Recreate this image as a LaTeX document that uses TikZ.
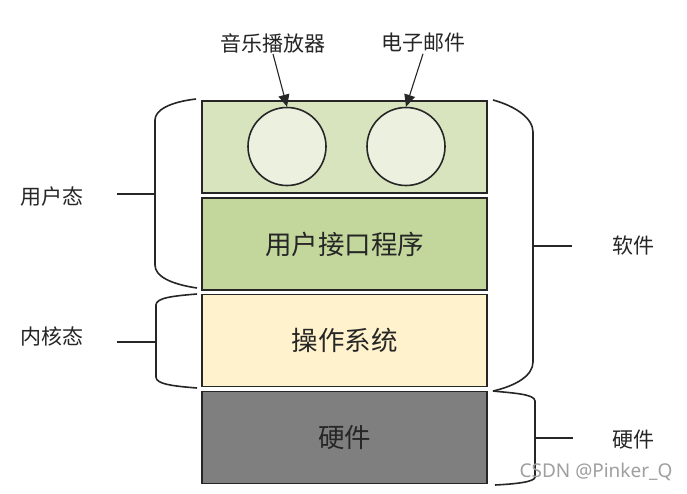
\documentclass[tikz,border=0pt]{standalone}
\usepackage{fontspec}
\newfontfamily\cjk{Noto Sans CJK SC}
\newfontfamily\wm{Noto Sans}
\usetikzlibrary{arrows.meta}
\definecolor{edge}{HTML}{262626}
\definecolor{appfill}{HTML}{D7E4BD}
\definecolor{uifill}{HTML}{C3D69B}
\definecolor{osfill}{HTML}{FFF2CC}
\definecolor{hwfill}{HTML}{7F7F7F}
\definecolor{circfill}{HTML}{EBF1DE}
\tikzset{
  layer/.style={draw=edge, line width=1.8pt, minimum width=285pt, minimum height=92pt, inner sep=0pt, font=\cjk\fontsize{26.5}{30}\selectfont, text=black!85},
  app/.style={circle, draw=edge, line width=1.6pt, fill=circfill, minimum size=78pt, inner sep=0pt},
  lbl/.style={font=\cjk\fontsize{21}{24}\selectfont, text=black!85, inner sep=1pt},
  brace/.style={draw=edge, line width=1.6pt},
  arr/.style={draw=edge, line width=1.1pt, -{Triangle[length=12pt,width=11pt]}}
}
\begin{document}
\begin{tikzpicture}[x=1pt,y=-1pt]
\useasboundingbox[fill=white] (0,0) rectangle (687,493);
% layers
\node[layer, fill=appfill] (appbox) at (344.5,147) {};
\node[layer, fill=uifill] (ui) at (344.5,244) {用户接口程序};
\node[layer, fill=osfill] (os) at (344.5,340.5) {操作系统};
\node[layer, fill=hwfill] (hw) at (344.5,437.5) {硬件};
% applications
\node[app] (c1) at (287,146.5) {};
\node[app] (c2) at (406,146.5) {};
\node[lbl] (l1) at (273,43) {音乐播放器};
\node[lbl] (l2) at (423,43) {电子邮件};
\draw[arr] (l1.south) -- (c1.north);
\draw[arr] (l2.south) -- (c2.north);
% left braces
\draw[brace] (196,99) .. controls (170,102) and (155,110) .. (155,120) -- (155,265) .. controls (155,276) and (170,284) .. (197,288);
\coordinate (t1a) at (155,194);
\coordinate (t1b) at (117,194);
\draw[brace] (t1a) -- (t1b);
\node[lbl] (user) at (52,197) {用户态};
\draw[brace] (197,294) .. controls (172,296) and (156,298) .. (156,305) -- (156,377) .. controls (156,384) and (172,386) .. (197,388);
\coordinate (t2a) at (156,342);
\coordinate (t2b) at (117,342);
\draw[brace] (t2a) -- (t2b);
\node[lbl] (kern) at (52,336) {内核态};
% right braces
\draw[brace] (493,100) .. controls (515,106) and (533,118) .. (533,132) -- (533,362) .. controls (533,376) and (515,386) .. (493,391);
\coordinate (t3a) at (533,246);
\coordinate (t3b) at (572,246);
\draw[brace] (t3a) -- (t3b);
\node[lbl] (sw) at (633,246) {软件};
\draw[brace] (493,391) .. controls (512,393) and (535,394) .. (535,401) -- (535,477) .. controls (535,482) and (515,484) .. (495,485);
\coordinate (t4a) at (535,438);
\coordinate (t4b) at (573,438);
\draw[brace] (t4a) -- (t4b);
\node[lbl] (hwl) at (633,440) {硬件};
% watermark
\node[font=\wm\fontsize{19}{22}\selectfont, text=gray!75, inner sep=0pt] (mark) at (596,472) {CSDN @Pinker\_Q};
\end{tikzpicture}
\end{document}
